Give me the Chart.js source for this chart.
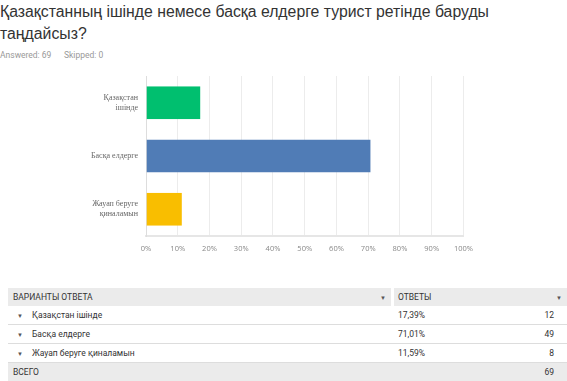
<!DOCTYPE html>
<html><head><meta charset="utf-8">
<script src="https://cdn.jsdelivr.net/npm/chart.js@4"></script>
<style>
html,body{margin:0;padding:0;background:#fff;width:567px;height:381px;overflow:hidden;font-family:Roboto,"Liberation Sans",Arial,sans-serif;}
#title{position:absolute;left:0;top:1px;width:567px;font-family:"Liberation Sans",Arial,sans-serif;font-size:15.8px;line-height:22px;color:#333;}
#meta{position:absolute;left:0;top:50px;font-size:8.5px;color:#999;white-space:pre;}
#wrap{position:absolute;left:0;top:66px;width:481px;height:192px;}
table{position:absolute;left:8px;top:288px;width:559px;border-collapse:collapse;font-size:8.5px;color:#333;}
td{height:18px;padding:0;vertical-align:middle;}
tr.h td{background:#ebebeb;}
tr.r td{border-bottom:1px solid #ddd;height:18px;}
.arr{font-size:6px;color:#555;}
</style></head><body>
<div id="title">Қазақстанның ішінде немесе басқа елдерге турист ретінде баруды таңдайсыз?</div>
<div id="meta">Answered: 69      Skipped: 0</div>
<div id="wrap"><canvas id="c" width="481" height="192"></canvas></div>
<table id="tbl"></table>
<script>
const categories = [["Қазақстан","ішінде"],["Басқа елдерге"],["Жауап беруге","қиналамын"]];
const tableLabels = ["Қазақстан ішінде","Басқа елдерге","Жауап беруге қиналамын"];
const percentValues = [17.39, 71.01, 11.59];
const percentText = ["17,39%","71,01%","11,59%"];
const counts = [12, 49, 8];
const total = 69;
const barColors = ["#00bf6f","#507cb6","#f9be00"];

new Chart(document.getElementById('c'), {
  type:'bar',
  data:{labels:categories,datasets:[{data:percentValues,backgroundColor:barColors,borderColor:"rgba(255,255,255,0.45)",borderWidth:{top:0,bottom:0,left:0,right:1},borderSkipped:false,barPercentage:0.62,categoryPercentage:1}]},
  options:{
    indexAxis:'y',responsive:false,animation:false,devicePixelRatio:1,
    layout:{padding:{top:7,right:6,left:0,bottom:0}},
    plugins:{legend:{display:false},tooltip:{enabled:false}},
    scales:{
      x:{min:0,max:100,ticks:{stepSize:10,callback:v=>v+'%',color:'#888',font:{family:'"Open Sans"',size:7.5},padding:8,maxRotation:0,autoSkip:false},
         grid:{color:'#ececec',lineWidth:1,drawTicks:false},border:{display:true,color:'#e6e6e6',width:2},
         afterFit:s=>{s.height=22;}},
      y:{ticks:{color:'#666',font:{family:'"Liberation Serif"',size:8,lineHeight:1.25},padding:0},
         grid:{display:false},border:{display:true,color:'#ddd',width:1},
         afterFit:s=>{s.width=146;}}
    }
  }
});
</script>
<script>
const tbl=document.getElementById('tbl');
let h='<tr class="h"><td style="width:366px;padding-left:5px">ВАРИАНТЫ ОТВЕТА</td><td class="arr" style="width:7px;text-align:right;padding-right:5px">▼</td><td style="width:3px;background:#fff"></td><td style="padding-left:4px">ОТВЕТЫ</td><td></td><td class="arr" style="text-align:right;padding-right:5px">▼</td></tr>';
for(let i=0;i<tableLabels.length;i++){
  h+='<tr class="r"><td colspan="2" style="padding-left:9px"><span class="arr" style="margin-right:9px">▼</span>'+tableLabels[i]+'</td><td></td><td style="padding-left:4px">'+percentText[i]+'</td><td style="text-align:right;padding-right:13px" colspan="2">'+counts[i]+'</td></tr>';
}
h+='<tr class="h"><td colspan="2" style="padding-left:5px">ВСЕГО</td><td style="background:#ebebeb"></td><td></td><td colspan="2" style="text-align:right;padding-right:13px">'+total+'</td></tr>';
tbl.innerHTML=h;
</script>
</body></html>
